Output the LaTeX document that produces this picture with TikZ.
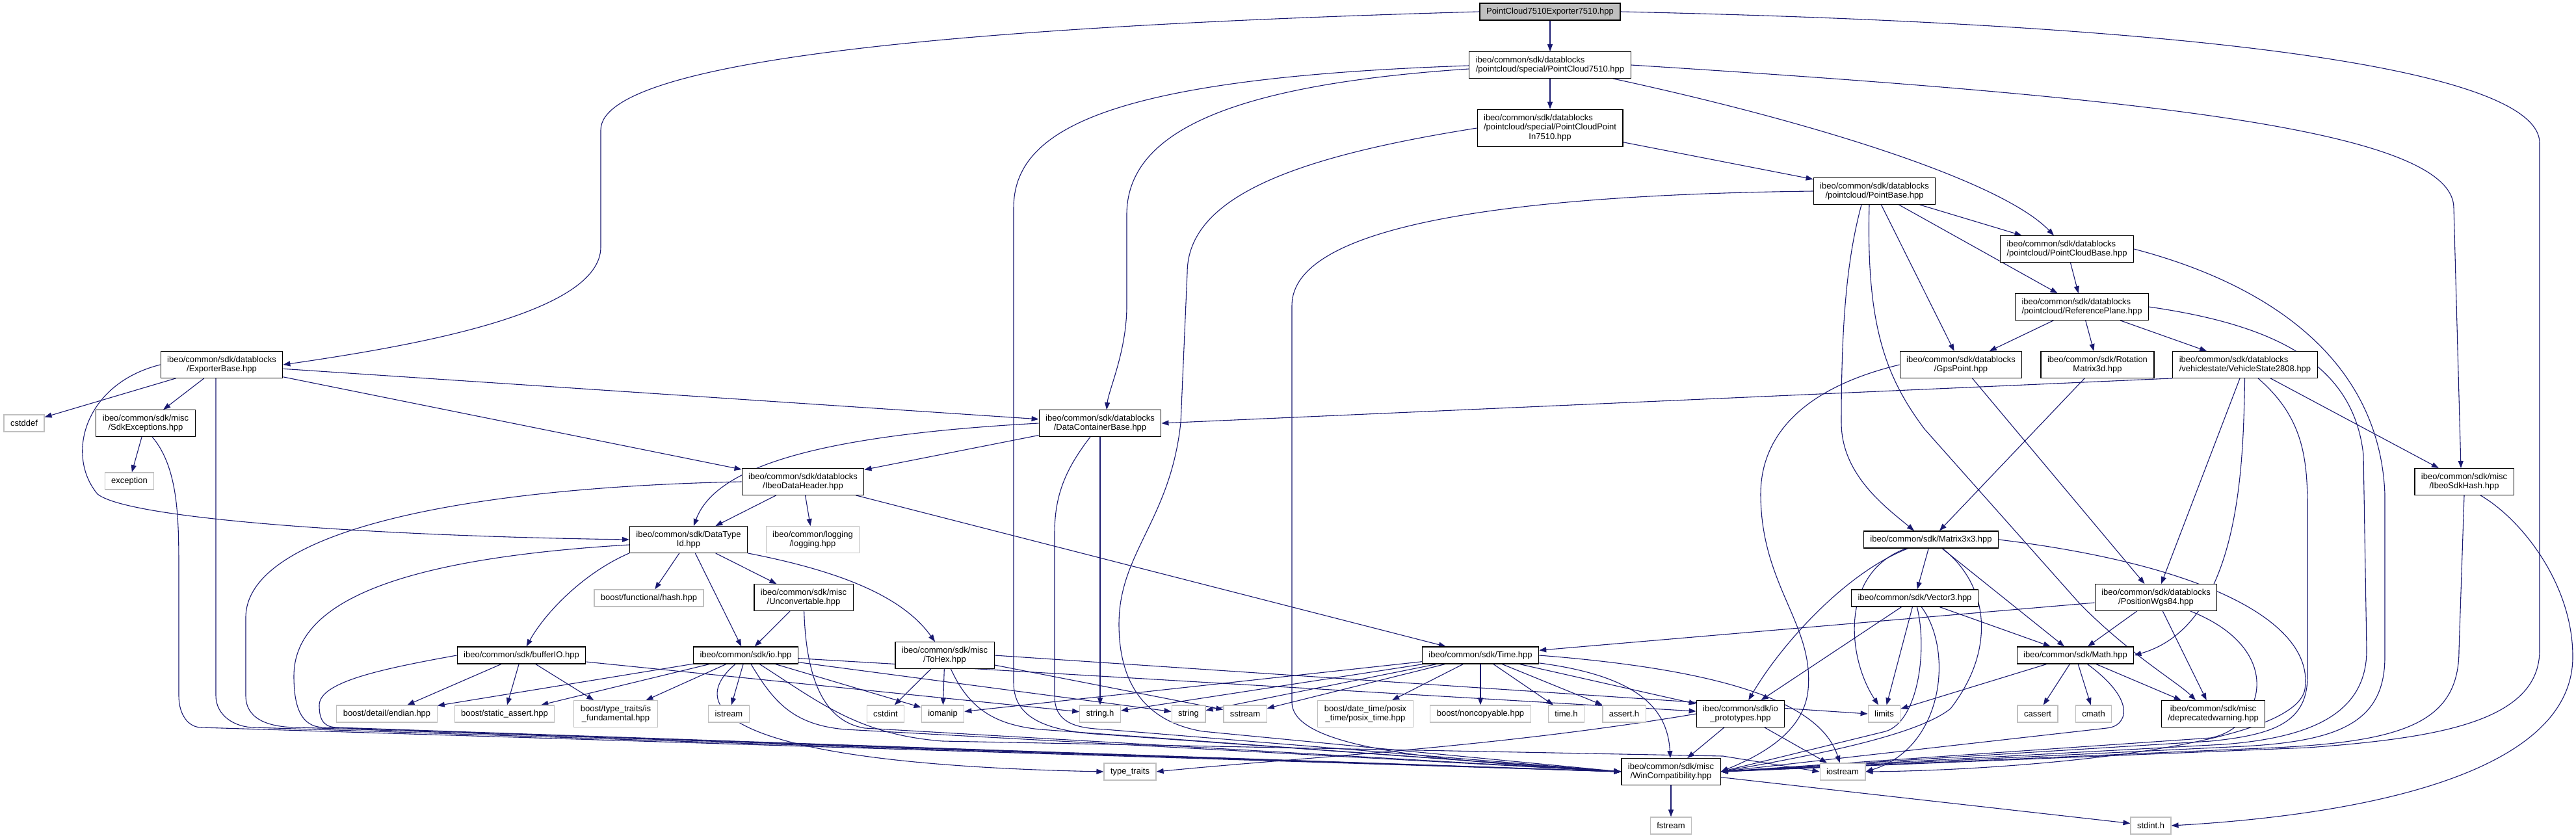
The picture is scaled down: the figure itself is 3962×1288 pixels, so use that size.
\documentclass[tikz,border=0pt]{standalone}
\usepackage{fontspec}
\setmainfont{Liberation Sans}
\usetikzlibrary{arrows.meta,backgrounds}
\definecolor{edgeblue}{HTML}{191970}
\definecolor{boxgray}{HTML}{BFBFBF}

\begin{document}
\begin{tikzpicture}[x=1pt,y=-1pt,
 hbox/.style={draw=black,line width=1.2pt,fill=white,font=\fontsize{13}{14.5}\selectfont,inner xsep=10pt,inner ysep=7pt,minimum height=26pt,align=center},
 sbox/.style={hbox,draw=boxgray},lbox/.style={hbox,align=left},rootbox/.style={hbox,fill=boxgray},
 dep/.style={draw=edgeblue,line width=1.1pt,-{Triangle[length=11pt,width=8pt]}}]
\useasboundingbox(0,0)rectangle(3962,1288);
\node[rootbox](exp)at(2384,18){PointCloud7510Exporter7510.hpp};
\node[lbox](pc7510)at(2384,100){ibeo/common/sdk/datablocks\\/pointcloud/special/PointCloud7510.hpp};
\node[hbox](pcpin)at(2384,197){\begin{tabular}{@{}l@{}}ibeo/common/sdk/datablocks\\/pointcloud/special/PointCloudPoint\\\multicolumn{1}{@{}c@{}}{In7510.hpp}\end{tabular}};
\node[hbox](ptbase)at(2883,294){ibeo/common/sdk/datablocks\\/pointcloud/PointBase.hpp};
\node[lbox](pcbase)at(3179,383){ibeo/common/sdk/datablocks\\/pointcloud/PointCloudBase.hpp};
\node[lbox](refplane)at(3202,472){ibeo/common/sdk/datablocks\\/pointcloud/ReferencePlane.hpp};
\node[hbox](gps)at(3016,561){ibeo/common/sdk/datablocks\\/GpsPoint.hpp};
\node[hbox](rotm)at(3226,561){ibeo/common/sdk/Rotation\\Matrix3d.hpp};
\node[lbox](vstate)at(3453,561){ibeo/common/sdk/datablocks\\/vehiclestate/VehicleState2808.hpp};
\node[hbox](expbase)at(341,561){ibeo/common/sdk/datablocks\\/ExporterBase.hpp};
\node[sbox](cstddef)at(37,651){cstddef};\node[hbox](sdkexc)at(224,651){ibeo/common/sdk/misc\\/SdkExceptions.hpp};
\node[hbox](dcbase)at(1692,651){ibeo/common/sdk/datablocks\\/DataContainerBase.hpp};
\node[sbox](exception)at(199,740){exception};\node[hbox](hdr)at(1235,741){ibeo/common/sdk/datablocks\\/IbeoDataHeader.hpp};
\node[hbox](sdkhash)at(3790,741){ibeo/common/sdk/misc\\/IbeoSdkHash.hpp};
\node[hbox](dtid)at(1059,830){ibeo/common/sdk/DataType\\Id.hpp};\node[sbox](logging)at(1250,830){ibeo/common/logging\\/logging.hpp};
\node[hbox](mat33)at(2970,830){ibeo/common/sdk/Matrix3x3.hpp};
\node[sbox](hash)at(998,920){boost/functional/hash.hpp};\node[hbox](unconv)at(1236,919){ibeo/common/sdk/misc\\/Unconvertable.hpp};
\node[hbox](vec3)at(2945,920){ibeo/common/sdk/Vector3.hpp};\node[hbox](wgs84)at(3316,919){ibeo/common/sdk/datablocks\\/PositionWgs84.hpp};
\node[hbox](bufio)at(802,1008){ibeo/common/sdk/bufferIO.hpp};\node[hbox](io)at(1147,1008){ibeo/common/sdk/io.hpp};
\node[hbox](tohex)at(1453,1008){ibeo/common/sdk/misc\\/ToHex.hpp};\node[hbox](time)at(2277,1008){ibeo/common/sdk/Time.hpp};
\node[hbox](math)at(3192,1008){ibeo/common/sdk/Math.hpp};
\node[sbox](endian)at(595,1098){boost/detail/endian.hpp};\node[sbox](sassert)at(776,1098){boost/static\_assert.hpp};
\node[sbox](isfund)at(947,1098){boost/type\_traits/is\\\_fundamental.hpp};\node[sbox](istream)at(1121,1098){istream};
\node[sbox](cstdint)at(1362,1098){cstdint};\node[sbox](iomanip)at(1450,1098){iomanip};\node[sbox](stringh)at(1692,1098){string.h};
\node[sbox](string)at(1828,1098){string};\node[sbox](sstream)at(1915,1098){sstream};
\node[sbox](posix)at(2100,1098){boost/date\_time/posix\\\_time/posix\_time.hpp};\node[sbox](noncopy)at(2277,1098){boost/noncopyable.hpp};
\node[sbox](timeh)at(2409,1098){time.h};\node[sbox](asserth)at(2498,1098){assert.h};
\node[hbox](ioproto)at(2677,1098){ibeo/common/sdk/io\\\_prototypes.hpp};\node[sbox](limits)at(2898,1098){limits};
\node[sbox](cassert)at(3134,1098){cassert};\node[sbox](cmath)at(3220,1098){cmath};
\node[hbox](deprec)at(3404,1098){ibeo/common/sdk/misc\\/deprecatedwarning.hpp};
\node[sbox](typetr)at(1738,1187){type\_traits};\node[hbox](wincomp)at(2570,1187){ibeo/common/sdk/misc\\/WinCompatibility.hpp};
\node[sbox](iostream)at(2834,1187){iostream};
\node[sbox](fstream)at(2570,1270){fstream};\node[sbox](stdint)at(3308,1270){stdint.h};
\begin{scope}[on background layer]
\foreach \a/\b in {exp/pc7510,pc7510/pcpin,pcpin/ptbase,ptbase/gps,ptbase/pcbase,ptbase/refplane,pcbase/refplane,refplane/gps,refplane/rotm,refplane/vstate,rotm/mat33,gps/wgs84,vstate/wgs84,vstate/sdkhash,expbase/cstddef,expbase/sdkexc,expbase/hdr,expbase/dcbase,sdkexc/exception,dcbase/hdr,dcbase/stringh,hdr/dtid,hdr/logging,hdr/time,dtid/hash,dtid/io,dtid/unconv,unconv/io,bufio/endian,bufio/sassert,bufio/isfund,bufio/stringh,io/endian,io/sassert,io/isfund,io/istream,io/iomanip,io/string,io/ioproto,tohex/cstdint,tohex/iomanip,tohex/sstream,time/posix,time/noncopy,time/timeh,time/asserth,time/ioproto,time/iomanip,time/stringh,time/string,time/sstream,ioproto/wincomp,ioproto/iostream,mat33/vec3,mat33/math,vec3/ioproto,vec3/limits,vec3/math,wgs84/time,wgs84/math,wgs84/deprec,math/cassert,math/cmath,math/deprec,math/limits,wincomp/fstream,wincomp/stdint}
  \draw[dep](\a)--(\b);
\draw[dep](tohex.east)--(limits.west);\draw[dep](vstate.south west)--(dcbase.east);
\draw[dep](exp.west)..controls(1500,40)and(924,90)..(924,200)--(924,380)..controls(924,480)and(650,530)..(expbase.east);
\draw[dep](exp.east)..controls(3500,40)and(3906,120)..(3906,220)--(3906,1000)..controls(3906,1110)and(3750,1135)..(3550,1150)--(wincomp.east);
\draw[dep](pc7510.east)..controls(3300,150)and(3774,200)..(3774,320)--([xshift=-5pt]sdkhash.north);
\draw[dep](pc7510)..controls(2800,190)and(3080,280)..(pcbase);
\draw[dep]([yshift=-6pt]pc7510.west)..controls(1900,130)and(1733,200)..(1733,330)--(1733,470)..controls(1733,540)and(1705,600)..([xshift=10pt]dcbase.north);
\draw[dep]([yshift=-1pt]pc7510.west)..controls(1700,120)and(1559,200)..(1559,320)--(1559,1050)..controls(1559,1100)and(1600,1125)..(1700,1130)--(wincomp.west);
\draw[dep](pcpin.west)..controls(2000,240)and(1826,300)..(1826,420)--(1816,650)..controls(1800,800)and(1721,850)..(1721,960)..controls(1721,1050)and(1760,1110)..(1850,1125)--(wincomp.west);
\draw[dep](ptbase.west)..controls(2300,300)and(1987,350)..(1987,470)--(1987,1080)..controls(1987,1150)and(2200,1170)..(wincomp.west);
\draw[dep]([xshift=-15pt]dcbase.south)..controls(1640,720)and(1622,760)..(1622,820)--(1622,1070)..controls(1622,1110)and(1650,1120)..(1700,1122)--(wincomp.west);
\draw[dep](dcbase.west)..controls(1250,670)and(1100,720)..(dtid);
\draw[dep](hdr.west)..controls(700,750)and(378,820)..(378,950)--(378,1070)..controls(378,1110)and(420,1119)..(460,1119)--(wincomp.west);
\draw[dep]([yshift=-8pt]dtid.west)..controls(600,860)and(452,930)..(452,1040)..controls(452,1100)and(470,1119)..(500,1119)--(wincomp.west);
\draw[dep](bufio.west)..controls(580,1030)and(491,1050)..(491,1085)..controls(491,1110)and(500,1119)..(520,1119)--(wincomp.west);
\draw[dep]([xshift=10pt]sdkexc.south)..controls(275,720)and(275,800)..(275,880)--(275,1070)..controls(275,1100)and(290,1119)..(310,1119)--(wincomp.west);
\draw[dep]([xshift=-9pt]expbase.south)--(332,1070)..controls(332,1100)and(360,1119)..(392,1119)--(wincomp.west);
\draw[dep](expbase.west)..controls(130,590)and(100,700)..(150,760)..controls(200,800)and(600,825)..(dtid.west);
\draw[dep](unconv)..controls(1240,1050)and(1270,1110)..(1330,1120)--(wincomp.west);
\draw[dep](io)..controls(1190,1080)and(1220,1115)..(1300,1122)--(wincomp.west);
\draw[dep](io)..controls(1260,1080)and(1320,1130)..(1450,1140)--(2650,1163)--(iostream.west);
\draw[dep](io)..controls(1050,1090)and(1120,1175)..(typetr.west);
\draw[dep](tohex)..controls(1490,1090)and(1530,1115)..(1600,1122)--(wincomp.west);
\draw[dep](dtid.south east)..controls(1300,880)and(1390,920)..(tohex);
\draw[dep](dtid.south west)..controls(900,880)and(840,940)..(bufio);
\draw[dep](time)..controls(2520,1040)and(2565,1090)..(wincomp);
\draw[dep](time.east)..controls(2650,1030)and(2800,1080)..(iostream);
\draw[dep](ioproto.west)..controls(2300,1150)and(2000,1165)..(typetr.east);
\draw[dep](mat33)..controls(2830,880)and(2840,1010)..(limits);
\draw[dep](mat33)..controls(2840,880)and(2740,990)..(ioproto);
\draw[dep](mat33)..controls(3060,900)and(3070,1000)..(3000,1090)..controls(2950,1130)and(2800,1160)..(wincomp.east);
\draw[dep](mat33.east)..controls(3400,870)and(3560,960)..(3545,1060)..controls(3530,1150)and(3100,1185)..(iostream.east);
\draw[dep](vec3)..controls(2965,1000)and(2950,1110)..(2900,1125)--(wincomp.east);
\draw[dep](vec3)..controls(3005,1000)and(2990,1150)..(iostream.east);
\draw[dep](math)..controls(3290,1080)and(3270,1118)..(3240,1120)--(wincomp.east);
\draw[dep](wgs84)..controls(3520,1000)and(3480,1120)..(3400,1135)--(wincomp.east);
\draw[dep](vstate)..controls(3450,700)and(3450,960)..(math.east);
\draw[dep]([xshift=20pt]vstate.south)..controls(3540,640)and(3549,700)..(3549,780)--(3549,1040)..controls(3549,1110)and(3500,1130)..(3400,1140)--(wincomp.east);
\draw[dep](refplane.east)..controls(3500,500)and(3620,560)..(3635,700)--(3640,1000)..controls(3640,1100)and(3550,1135)..(3420,1145)--(wincomp.east);
\draw[dep](pcbase.east)..controls(3500,440)and(3660,560)..(3668,760)--(3668,1010)..controls(3668,1110)and(3600,1140)..(3450,1148)--(wincomp.east);
\draw[dep](sdkhash.south)--(3782,1000)..controls(3782,1110)and(3700,1140)..(3500,1150)--(wincomp.east);
\draw[dep]([xshift=25pt]sdkhash.south)..controls(3880,800)and(3957,900)..(3957,1010)..controls(3957,1200)and(3600,1255)..(stdint.east);
\draw[dep](gps.west)..controls(2760,600)and(2708,680)..(2708,760)..controls(2708,900)and(2790,960)..(2781,1060)..controls(2775,1130)and(2700,1165)..(wincomp.east);
\draw[dep]([xshift=-20pt]ptbase.south)..controls(2840,400)and(2832,500)..(2832,650)..controls(2832,730)and(2900,780)..([xshift=-26pt]mat33.north);
\draw[dep]([xshift=-8pt]ptbase.south)..controls(2870,500)and(2900,580)..(2960,660)--(3200,930)..controls(3280,1010)and(3350,1050)..([xshift=-27pt]deprec.north);
\end{scope}
\end{tikzpicture}
\end{document}
